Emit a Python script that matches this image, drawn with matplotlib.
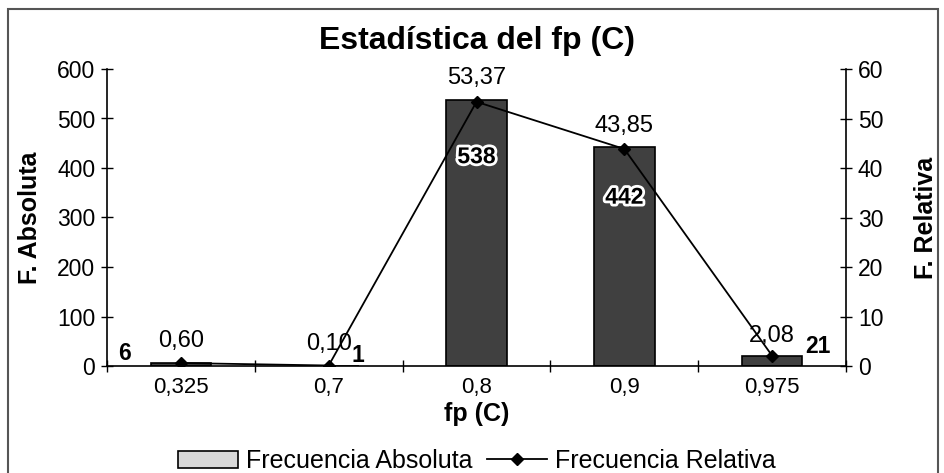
import matplotlib
matplotlib.use("Agg")
import matplotlib.pyplot as plt
import matplotlib.patheffects as pe
from matplotlib.patches import Rectangle
from matplotlib.lines import Line2D
import numpy as np

categories = ["0,325", "0,7", "0,8", "0,9", "0,975"]
f_absoluta = [6, 1, 538, 442, 21]
f_relativa = [0.60, 0.10, 53.37, 43.85, 2.08]
rel_labels = ["0,60", "0,10", "53,37", "43,85", "2,08"]

plt.rcParams['font.family'] = ['Liberation Sans', 'DejaVu Sans']

fig = plt.figure(figsize=(9.44, 4.73), dpi=100)
ax = fig.add_axes([107/944, (473-366)/473, (846-107)/944, (366-69)/473])
ax2 = ax.twinx()

x = np.arange(len(categories))
ax.bar(x, f_absoluta, width=0.41, color='#404040', edgecolor='black', linewidth=1.2, zorder=2)
ax.set_xlim(-0.5, len(categories) - 0.5)
ax.set_ylim(0, 600)
ax.set_yticks(range(0, 601, 100))
ax2.set_ylim(0, 60)
ax2.set_yticks(range(0, 61, 10))

ax2.plot(x, f_relativa, color='black', lw=1.3, marker='D', ms=6, zorder=3)

for a in (ax, ax2):
    a.spines['top'].set_visible(False)
    a.patch.set_visible(False)
ax.spines['right'].set_visible(False)
ax2.spines['left'].set_visible(False)
ax2.spines['bottom'].set_visible(False)

ax.tick_params(axis='y', direction='inout', length=9, width=1, labelsize=16.5, pad=4)
ax2.tick_params(axis='y', direction='inout', length=9, width=1, labelsize=16.5, pad=4)
ax.set_xticks(np.arange(-0.5, len(categories), 1.0))
ax.set_xticklabels([])
ax.tick_params(axis='x', which='major', direction='inout', length=9, width=1)
ax.set_xticks(x, minor=True)
ax.set_xticklabels(categories, minor=True, fontsize=16)
ax.tick_params(axis='x', which='minor', length=0, pad=8)

for s in ('left', 'bottom'):
    ax.spines[s].set_linewidth(1.2)
ax2.spines['right'].set_linewidth(1.2)

ax.set_ylabel("F. Absoluta", fontsize=18, fontweight='bold', labelpad=11)
ax2.set_ylabel("F. Relativa", fontsize=18, fontweight='bold', rotation=90, labelpad=22)
ax.set_xlabel("fp (C)", fontsize=18, fontweight='bold', labelpad=3)
fig.text(0.505, (473-41)/473, "Estadística del fp (C)", ha='center', va='center',
         fontsize=23, fontweight='bold')

# relative labels
rel_off = [(0, 22), (0, 22), (0, 24), (0, 23), (0, 20)]
for i, (v, lab) in enumerate(zip(f_relativa, rel_labels)):
    ax2.annotate(lab, (x[i], v), xytext=rel_off[i], textcoords='offset pixels',
                 ha='center', va='center', fontsize=17, zorder=5)

# absolute labels
halo = [pe.withStroke(linewidth=4, foreground='white')]
abs_pos = [(-0.38, 10), (0.2, 10), (0.0, -57), (0.0, -50), (0.31, 9)]
for i, v in enumerate(f_absoluta):
    dx, dy = abs_pos[i]
    t = ax.annotate(str(v), (x[i] + dx, v), xytext=(0, dy), textcoords='offset pixels',
                    ha='center', va='center', fontsize=16.5, fontweight='bold', zorder=6)
    if i in (2, 3):
        t.set_path_effects(halo)

# legend
handles = [Rectangle((0, 0), 1, 1, facecolor='#d8d8d8', edgecolor='black', lw=1.2),
           Line2D([], [], color='black', lw=1.3, marker='D', ms=6)]
fig.legend(handles, ["Frecuencia Absoluta", "Frecuencia Relativa"], loc='center',
           bbox_to_anchor=(0.505, (473-461)/473), ncol=2, frameon=False, fontsize=18,
           handlelength=2.4, columnspacing=0.6, handletextpad=0.3)

# outer frame
fig.patches.append(Rectangle((8/944, -0.01), (938-8)/944, (473-9)/473 + 0.01,
                             transform=fig.transFigure, fill=False, edgecolor='#555555',
                             lw=1.5))

fig.savefig("out.png", dpi=100)
